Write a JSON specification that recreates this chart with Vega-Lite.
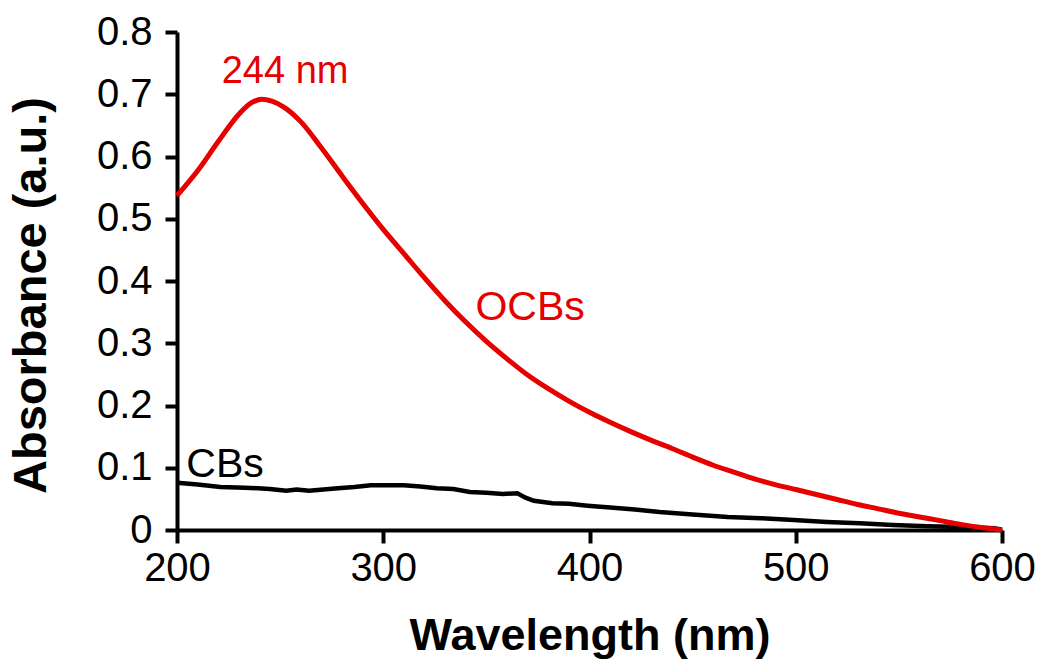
{
  "$schema": "https://vega.github.io/schema/vega-lite/v6.json",
  "width": 825,
  "height": 498,
  "autosize": "none",
  "padding": {"left": 177, "top": 32, "right": 39, "bottom": 136},
  "background": "white",
  "config": {
    "view": {"stroke": null},
    "font": "Liberation Sans"
  },
  "datasets": {
    "curves": [
      {"s": "OCBs", "wl": 200, "A": 0.537},
      {"s": "OCBs", "wl": 210, "A": 0.577},
      {"s": "OCBs", "wl": 220, "A": 0.624},
      {"s": "OCBs", "wl": 230, "A": 0.668},
      {"s": "OCBs", "wl": 236, "A": 0.686},
      {"s": "OCBs", "wl": 241, "A": 0.692},
      {"s": "OCBs", "wl": 246, "A": 0.689},
      {"s": "OCBs", "wl": 252, "A": 0.679},
      {"s": "OCBs", "wl": 260, "A": 0.656},
      {"s": "OCBs", "wl": 270, "A": 0.614},
      {"s": "OCBs", "wl": 280, "A": 0.569},
      {"s": "OCBs", "wl": 290, "A": 0.525},
      {"s": "OCBs", "wl": 300, "A": 0.483},
      {"s": "OCBs", "wl": 310, "A": 0.444},
      {"s": "OCBs", "wl": 320, "A": 0.405},
      {"s": "OCBs", "wl": 330, "A": 0.368},
      {"s": "OCBs", "wl": 340, "A": 0.334},
      {"s": "OCBs", "wl": 350, "A": 0.303},
      {"s": "OCBs", "wl": 360, "A": 0.275},
      {"s": "OCBs", "wl": 370, "A": 0.249},
      {"s": "OCBs", "wl": 380, "A": 0.227},
      {"s": "OCBs", "wl": 390, "A": 0.207},
      {"s": "OCBs", "wl": 400, "A": 0.189},
      {"s": "OCBs", "wl": 410, "A": 0.173},
      {"s": "OCBs", "wl": 420, "A": 0.158},
      {"s": "OCBs", "wl": 430, "A": 0.144},
      {"s": "OCBs", "wl": 440, "A": 0.131},
      {"s": "OCBs", "wl": 450, "A": 0.117},
      {"s": "OCBs", "wl": 460, "A": 0.104},
      {"s": "OCBs", "wl": 470, "A": 0.093},
      {"s": "OCBs", "wl": 480, "A": 0.082},
      {"s": "OCBs", "wl": 490, "A": 0.073},
      {"s": "OCBs", "wl": 500, "A": 0.065},
      {"s": "OCBs", "wl": 510, "A": 0.057},
      {"s": "OCBs", "wl": 520, "A": 0.049},
      {"s": "OCBs", "wl": 530, "A": 0.041},
      {"s": "OCBs", "wl": 540, "A": 0.034},
      {"s": "OCBs", "wl": 550, "A": 0.027},
      {"s": "OCBs", "wl": 560, "A": 0.021},
      {"s": "OCBs", "wl": 570, "A": 0.015},
      {"s": "OCBs", "wl": 580, "A": 0.009},
      {"s": "OCBs", "wl": 590, "A": 0.004},
      {"s": "OCBs", "wl": 600, "A": 0.0},
      {"s": "CBs", "wl": 200, "A": 0.076},
      {"s": "CBs", "wl": 210, "A": 0.073},
      {"s": "CBs", "wl": 221, "A": 0.069},
      {"s": "CBs", "wl": 233, "A": 0.068},
      {"s": "CBs", "wl": 245, "A": 0.066},
      {"s": "CBs", "wl": 253, "A": 0.063},
      {"s": "CBs", "wl": 258, "A": 0.065},
      {"s": "CBs", "wl": 264, "A": 0.063},
      {"s": "CBs", "wl": 271, "A": 0.065},
      {"s": "CBs", "wl": 278, "A": 0.067},
      {"s": "CBs", "wl": 286, "A": 0.069},
      {"s": "CBs", "wl": 294, "A": 0.072},
      {"s": "CBs", "wl": 302, "A": 0.072},
      {"s": "CBs", "wl": 310, "A": 0.072},
      {"s": "CBs", "wl": 318, "A": 0.07},
      {"s": "CBs", "wl": 326, "A": 0.067},
      {"s": "CBs", "wl": 334, "A": 0.066},
      {"s": "CBs", "wl": 342, "A": 0.061},
      {"s": "CBs", "wl": 350, "A": 0.06},
      {"s": "CBs", "wl": 358, "A": 0.058},
      {"s": "CBs", "wl": 365, "A": 0.059},
      {"s": "CBs", "wl": 369, "A": 0.052},
      {"s": "CBs", "wl": 373, "A": 0.047},
      {"s": "CBs", "wl": 382, "A": 0.043},
      {"s": "CBs", "wl": 390, "A": 0.042},
      {"s": "CBs", "wl": 399, "A": 0.039},
      {"s": "CBs", "wl": 410, "A": 0.036},
      {"s": "CBs", "wl": 422, "A": 0.033},
      {"s": "CBs", "wl": 434, "A": 0.029},
      {"s": "CBs", "wl": 450, "A": 0.025},
      {"s": "CBs", "wl": 467, "A": 0.021},
      {"s": "CBs", "wl": 483, "A": 0.019},
      {"s": "CBs", "wl": 499, "A": 0.016},
      {"s": "CBs", "wl": 515, "A": 0.013},
      {"s": "CBs", "wl": 531, "A": 0.011},
      {"s": "CBs", "wl": 547, "A": 0.008},
      {"s": "CBs", "wl": 564, "A": 0.006},
      {"s": "CBs", "wl": 580, "A": 0.005},
      {"s": "CBs", "wl": 596, "A": 0.003},
      {"s": "CBs", "wl": 600, "A": 0.001}
    ],
    "labels": [
      {"s": "OCBs", "wl": 252.4, "A": 0.736, "label": "244 nm", "big": "small"},
      {"s": "OCBs", "wl": 371.2, "A": 0.357, "label": "OCBs", "big": "big"},
      {"s": "CBs", "wl": 223.3, "A": 0.104, "label": "CBs", "big": "big"}
    ]
  },
  "layer": [
    {
      "data": {"name": "curves"},
      "transform": [{"filter": "datum.s == 'CBs'"}],
      "mark": {"type": "line", "strokeWidth": 4.5, "interpolate": "linear"},
      "encoding": {
        "x": {
          "field": "wl", "type": "quantitative",
          "scale": {"domain": [200, 600], "nice": false, "zero": false},
          "axis": {
            "title": "Wavelength (nm)",
            "values": [200, 300, 400, 500, 600],
            "grid": false,
            "domainColor": "black", "domainWidth": 4,
            "tickColor": "black", "tickWidth": 4, "tickSize": 13,
            "labelFont": "Liberation Sans", "labelFontSize": 40, "labelColor": "black",
            "labelPadding": 5, "labelFlush": false,
            "titleFont": "Liberation Sans", "titleFontSize": 45, "titleFontWeight": "bold",
            "titleColor": "black", "titleY": 105, "titleBaseline": "middle"
          }
        },
        "y": {
          "field": "A", "type": "quantitative",
          "scale": {"domain": [0, 0.8], "nice": false},
          "axis": {
            "title": "Absorbance (a.u.)",
            "values": [0, 0.1, 0.2, 0.3, 0.4, 0.5, 0.6, 0.7, 0.8],
            "labelExpr": "datum.value == 0 ? '0' : format(datum.value, '.1f')",
            "grid": false,
            "domainColor": "black", "domainWidth": 4,
            "tickColor": "black", "tickWidth": 4, "tickSize": 12,
            "labelFont": "Liberation Sans", "labelFontSize": 40, "labelColor": "black",
            "labelPadding": 13, "labelFlush": false,
            "titleFont": "Liberation Sans", "titleFontSize": 47, "titleFontWeight": "bold",
            "titleColor": "black", "titleX": -146, "titleY": 263, "titleBaseline": "middle", "titleAngle": -90, "titleAlign": "center"
          }
        },
        "color": {
          "field": "s", "type": "nominal",
          "scale": {"domain": ["OCBs", "CBs"], "range": ["#e60000", "#000000"]},
          "legend": null
        }
      }
    },
    {
      "data": {"name": "curves"},
      "transform": [{"filter": "datum.s == 'OCBs'"}],
      "mark": {"type": "line", "strokeWidth": 5, "interpolate": "monotone"},
      "encoding": {
        "x": {"field": "wl", "type": "quantitative"},
        "y": {"field": "A", "type": "quantitative"},
        "color": {"field": "s", "type": "nominal", "legend": null}
      }
    },
    {
      "data": {"name": "labels"},
      "mark": {"type": "text", "font": "Liberation Sans", "align": "center", "baseline": "middle"},
      "encoding": {
        "x": {"field": "wl", "type": "quantitative"},
        "y": {"field": "A", "type": "quantitative"},
        "text": {"field": "label"},
        "color": {"field": "s", "type": "nominal", "legend": null},
        "size": {"field": "big", "type": "nominal", "scale": {"domain": ["small", "big"], "range": [38, 41]}, "legend": null}
      }
    }
  ]
}
